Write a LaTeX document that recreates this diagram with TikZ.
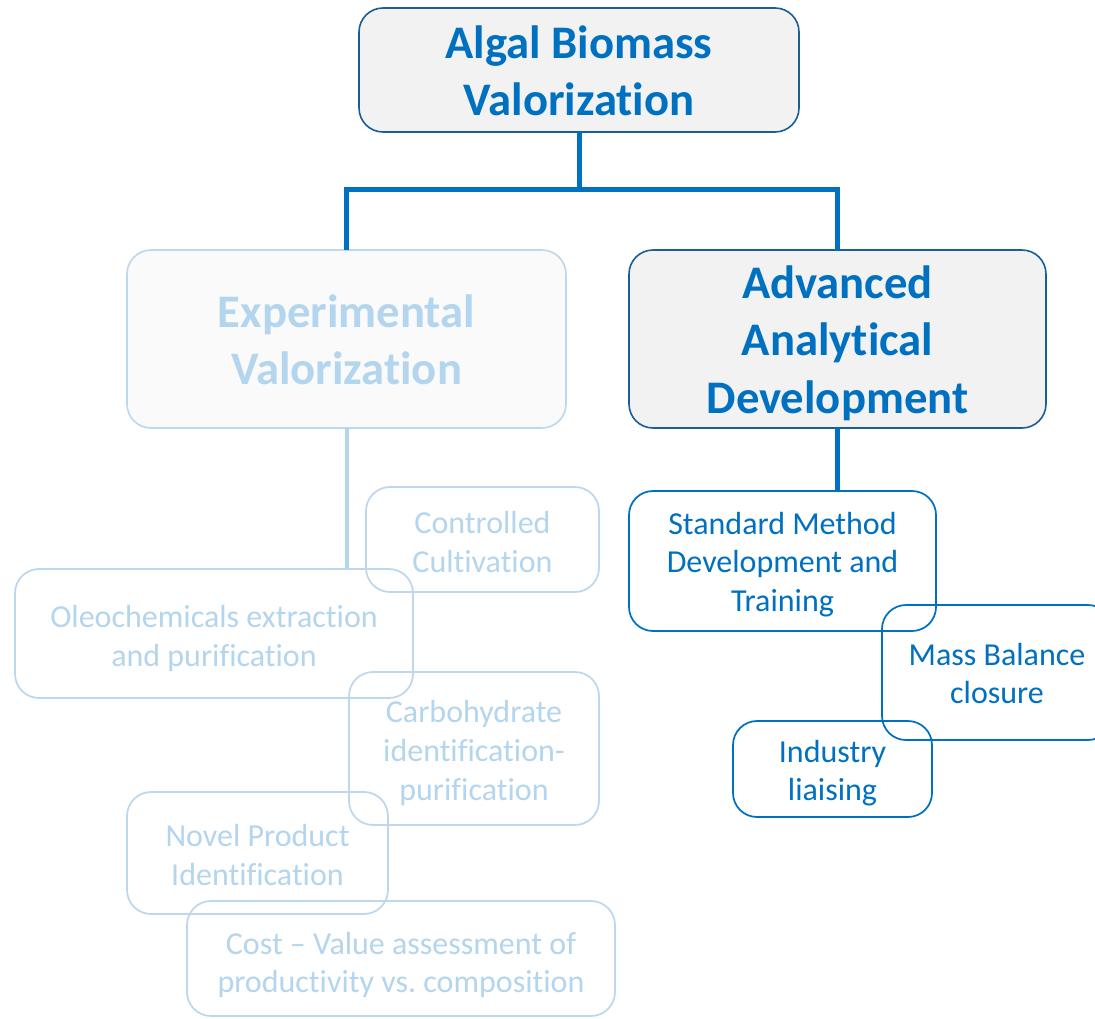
\documentclass[tikz,border=0pt]{standalone}
\usepackage{fontspec}
\setmainfont{Carlito}[Ligatures={NoCommon,NoRare,NoContextual}]
\definecolor{dblue}{HTML}{0070C0}
\definecolor{bordb}{HTML}{1A5E98}
\definecolor{lblue}{HTML}{B4D5EE}
\definecolor{lbord}{HTML}{BDD7EE}
\definecolor{gfill}{HTML}{F2F2F2}
\definecolor{lfill}{HTML}{FAFAFA}
\begin{document}
\begin{tikzpicture}[x=0.75pt,y=-0.75pt,
  base/.style={rectangle,rounded corners=18pt,inner sep=0pt,outer sep=0pt},
  txt/.style={inner sep=0pt,outer sep=0pt,align=center},
  bigdark/.style={base,draw=bordb,line width=1.2pt,fill=gfill},
  biglight/.style={base,draw=lbord,line width=1.2pt,fill=lfill},
  smalldark/.style={base,draw=dblue,line width=1.3pt},
  smalllight/.style={base,draw=lbord,line width=1.3pt},
  bigdarktxt/.style={txt,text=dblue,font=\fontsize{35}{43}\selectfont\bfseries},
  biglighttxt/.style={txt,text=lblue,font=\fontsize{35}{43}\selectfont\bfseries},
  smalldarktxt/.style={txt,text=dblue,font=\fontsize{24}{29}\selectfont},
  smalllighttxt/.style={txt,text=lblue,font=\fontsize{24}{29}\selectfont},
  darkconn/.style={draw=dblue,line width=3.75pt},
  lightconn/.style={draw=lblue,line width=3pt}]
\clip (0,0) rectangle (1095,1018);
\fill[white] (0,0) rectangle (1095,1018);
\coordinate (j) at (579,189);
% boxes
\node[bigdark,minimum width=330pt,minimum height=93pt] (top) at (579,70) {};
\node[biglight,minimum width=329.25pt,minimum height=133.5pt] (exp) at (346.5,339) {};
\node[bigdark,minimum width=312.75pt,minimum height=133.5pt] (adv) at (837.5,339) {};
\node[smalllight,minimum width=174.75pt,minimum height=78.75pt] (cc) at (482.5,539.5) {};
\node[smalllight,minimum width=298.5pt,minimum height=96.75pt] (oleo) at (214,633.5) {};
\node[smalllight,minimum width=187.5pt,minimum height=114.75pt] (carb) at (474,748.5) {};
\node[smalllight,minimum width=195.75pt,minimum height=91.5pt] (novel) at (257.5,853) {};
\node[smalllight,minimum width=321pt,minimum height=86.25pt] (cost) at (401,958.5) {};
\node[smalldark,minimum width=230.25pt,minimum height=105pt] (std) at (782.5,561) {};
\node[smalldark,minimum width=172.5pt,minimum height=101.25pt] (mass) at (997,672.5) {};
\node[smalldark,minimum width=149.25pt,minimum height=72pt] (ind) at (832.5,769) {};
% texts
\node[bigdarktxt] (topt) at (579,70.5) {Algal Biomass\\Valorization};
\node[biglighttxt] (expt) at (346.5,340) {Experimental\\Valorization};
\node[bigdarktxt] (advt) at (837.5,343) {Advanced\\Analytical\\Development};
\node[smalllighttxt] (cct) at (482.5,542) {Controlled\\Cultivation};
\node[smalllighttxt] (oleot) at (214,638.5) {Oleochemicals extraction\\and purification};
\node[smalllighttxt] (carbt) at (474,753) {Carbohydrate\\identification-\\purification};
\node[smalllighttxt] (novelt) at (257.5,855) {Novel Product\\Identification};
\node[smalllighttxt] (costt) at (401,965) {Cost -- Value assessment of\\productivity vs.\ composition};
\node[smalldarktxt] (stdt) at (782.5,564.5) {Standard Method\\Development and\\Training};
\node[smalldarktxt] (masst) at (997,673.5) {Mass Balance\\closure};
\node[smalldarktxt] (indt) at (832.5,773) {Industry\\liaising};
% connectors
\draw[darkconn] (top.south) -- (j);
\draw[darkconn] (exp.north) -- (exp.north |- j) -- (adv.north |- j) -- (adv.north);
\draw[lightconn] (exp.south) -- (exp.south |- oleo.north);
\draw[darkconn] (adv.south) -- (adv.south |- std.north);
\end{tikzpicture}
\end{document}
